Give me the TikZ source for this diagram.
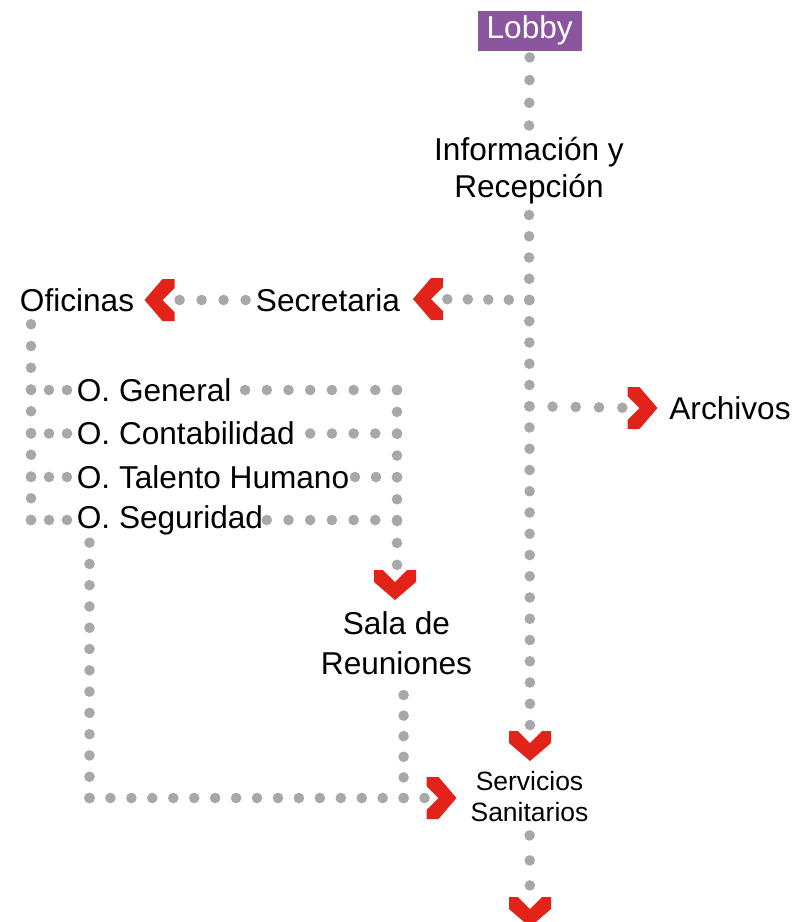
\documentclass[tikz,border=0pt]{standalone}
\usepackage{fontspec}
\setmainfont{Liberation Sans}
\usetikzlibrary{positioning}
\definecolor{Plum}{HTML}{8C55A0}
\definecolor{DotGrey}{HTML}{A8A7AB}
\definecolor{ChevRed}{HTML}{E2231A}

\begin{document}
\begin{tikzpicture}[
    x=0.5pt,y=-0.5pt,
    lbl/.style={inner sep=0pt,align=center,font=\fontsize{15.8}{18.3}\selectfont},
    small/.style={inner sep=0pt,align=center,font=\fontsize{13.25}{15.3}\selectfont},
    dots/.style={draw=DotGrey,line width=5.3pt,line cap=round,dash pattern=on 0pt off #1},
    dots/.default=10.85pt,
    chev/.pic={\fill[ChevRed] (-21,-15) -- (-12,-15) -- (0,-3) -- (12,-15) -- (21,-15)
                -- (21,-3) -- (0,15) -- (-21,-3) -- cycle;}
  ]
    \useasboundingbox (0,0) rectangle (795,922);
    \node[lbl,fill=Plum,text=white,minimum width=52pt,minimum height=20.2pt] (lobby) at (529.7,30.8) {Lobby};
    \node[lbl] (info) at (529,170.5) {Información y\\Recepción};
    \node[lbl] (secr) at (328,300) {Secretaria};
    \node[lbl] (ofic) at (77,300) {Oficinas};
    \node[lbl,anchor=west] (arch) at (669,408) {Archivos};
    \node[lbl,anchor=west] (gen) at (76.5,390) {O. General};
    \node[lbl,anchor=west] (cont) at (76.5,433.5) {O. Contabilidad};
    \node[lbl,anchor=west] (tal) at (76.5,477) {O. Talento Humano};
    \node[lbl,anchor=west] (seg) at (76.5,520) {O. Seguridad};
    \node[lbl,font=\fontsize{15.8}{20}\selectfont] (sala) at (396.5,643) {Sala de\\Reuniones};
    \node[small] (serv) at (529.5,796.5) {Servicios\\Sanitarios};

    \coordinate (j1) at (529.3,300);
    \coordinate (j2) at (529.3,406.25);
    \coordinate (lr) at (31,520);
    \coordinate (rr) at (397,565);
    \coordinate (bl) at (89.5,798);
    \coordinate (sr) at (403.6,798);
    \coordinate (cSec) at (428,299);
    \coordinate (cOfi) at (159.5,300);
    \coordinate (cArch) at (642.5,408);
    \coordinate (cSala) at (395,585);
    \coordinate (cServ) at (530,746);
    \coordinate (cSan) at (441.5,798);
    \coordinate (cEnd) at (530,912);

    \draw[dots=11.35pt,shorten <=3pt] (lobby.south) -- (info.north);
    \draw[dots=10.625pt] (j1) -- (info.south);
    \draw[dots=10.625pt,shorten >=10.25pt] (j1) -- (cServ);
    \draw[dots=10.25pt,shorten >=9pt] (j1) -- (cSec);
    \draw[dots=11pt,shorten <=5pt,shorten >=9.75pt] (secr.west) -- (cOfi);
    \draw[dots=11.625pt,shorten >=9.25pt] (j2) -- (cArch);
    \draw[dots=10.875pt] (lr) -- (ofic.south -| lr);
    \foreach \n in {gen,cont,tal,seg}
      \draw[dots=9pt] (\n.west -| lr) -- (\n.west);
    \draw[dots=10.925pt] (gen.east -| rr) -- (rr);
    \draw[dots] (gen.east -| rr) -- (gen.east);
    \draw[dots] (cont.east -| rr) -- (cont.east);
    \draw[dots=10.5pt] (tal.east -| rr) -- (tal.east);
    \draw[dots] (seg.east -| rr) -- (seg.east);
    \draw[dots=10.64pt] (bl) -- (seg.south -| bl);
    \draw[dots=10.47pt,shorten >=7.75pt] (bl) -- (cSan);
    \draw[dots=10.3pt,shorten >=4pt] (sr) -- (sala.south -| sr);
    \draw[dots=12.5pt,shorten <=6.75pt,shorten >=13pt] (serv.south) -- (cEnd);

    \pic[rotate=-90] at (cSec) {chev};
    \pic[rotate=-90] at (cOfi) {chev};
    \pic[rotate=90] at (cArch) {chev};
    \pic[rotate=90] at (cSan) {chev};
    \pic at (cSala) {chev};
    \pic at (cServ) {chev};
    \pic at (cEnd) {chev};
\end{tikzpicture}
\end{document}
